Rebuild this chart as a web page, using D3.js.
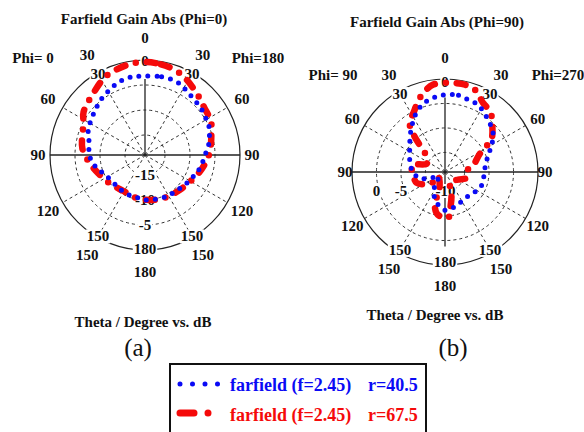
<!DOCTYPE html>
<html>
<head>
<meta charset="utf-8">
<script src="https://cdn.jsdelivr.net/npm/d3@7/dist/d3.min.js"></script>
<style>
  body { margin: 0; background: #fff; }
  svg text { font-family: "Liberation Serif", "Times New Roman", serif; fill: #111; }
</style>
</head>
<body>
<svg id="chart" width="584" height="432"></svg>
<script>
// theta in degrees, clockwise from the top (listed in drawing order); gain in dB
const phi0Theta40 = [0,12,20,27,34,42,50,59,66,74,82,90,102,110,121,135,154,180,193,207,221,240,252,261,272,282,291,300,312,321,331,339,347,353];
const phi0Gain40  = [-3.2,-3.0,-3.0,-3.2,-3.8,-4.2,-4.4,-4.8,-5.0,-5.6,-6.2,-7.0,-7.6,-8.2,-8.8,-9.4,-9.7,-10.0,-10.4,-10.4,-10.6,-10.3,-9.4,-8.4,-7.8,-7.6,-6.8,-6.3,-5.6,-4.9,-4.2,-3.6,-3.2,-3.2];

const phi0Theta67 = [0,10,20,29,41,51,63,74,87,100,110,134,155,171,190,211,230,248,262,276,297,305,319,334,350];
const phi0Gain67  = [-0.4,-0.6,-1.0,-1.8,-3.0,-3.8,-4.2,-5.2,-6.0,-7.0,-7.8,-9.1,-9.6,-9.9,-10.2,-10.6,-10.0,-9.0,-7.8,-6.4,-5.2,-4.0,-3.0,-1.4,-0.6];

const phi90Theta40 = [0,10,18,26,35,43,52,60,68,80,96,114,132,150,165,180,195,211,225,240,246,256,269,285,306,317,326,334,343,352];
const phi90Gain40  = [1.8,1.9,1.5,1.3,0.3,-0.5,-1.5,-3.0,-4.4,-5.6,-6.0,-6.1,-7.1,-7.1,-6.6,-6.2,-7.5,-9.5,-12.0,-12.4,-11.0,-8.7,-7.5,-6.6,-5.1,-3.6,-2.1,-0.6,0.7,1.4];

const phi90Theta67 = [0,7.5,13,20,29,37,43,55,58,62,76,88,105,120,152,161,165,172,176,185,192,199,196,240,230,249,265,282,294,310,316,320,324,332,340,346,352];
const phi90Gain67  = [4.2,4.3,4.3,3.9,2.1,1.4,0.1,-2.4,-4.0,-5.9,-8.0,-9.6,-9.4,-10.9,-11.8,-10.9,-8.9,-6.4,-4.6,-4.8,-5.5,-7.7,-9.6,-12.4,-10.5,-7.8,-7.5,-7.1,-9.9,-9.1,-6.9,-4.0,-1.7,-0.3,1.7,3.0,4.0];

const phi0Range = [-19, 0];
const phi90Range = [-14, 5];
const phi0RingTicks = [-15, -10, -5];
const phi90RingTicks = [0, -5, -10];

const angleTicks = d3.range(0, 360, 30);
const innerAngleTicks = [0, 30, 150, 180, 210, 330];

const seriesNames = ["farfield (f=2.45)", "farfield (f=2.45)"];
const seriesRadii = ["r=40.5", "r=67.5"];
const blue = "#0a0af5", red = "#f50a0a";

const svg = d3.select("#chart");
const rad = d => d * Math.PI / 180;

function polar(cfg) {
  const g = svg.append("g").attr("transform", `translate(${cfg.cx},${cfg.cy})`);
  const r = d3.scaleLinear().domain(cfg.range).range([0, cfg.R]);
  const R = cfg.R;

  // dashed rings and spokes
  g.selectAll(".ring").data(cfg.rings).join("circle")
    .attr("r", d => r(d)).attr("fill", "none")
    .attr("stroke", "#333").attr("stroke-width", 1).attr("stroke-dasharray", "3,3");
  g.selectAll(".spoke").data(angleTicks.filter(a => a % 90 !== 0)).join("line")
    .attr("x2", d => R * Math.sin(rad(d))).attr("y2", d => -R * Math.cos(rad(d)))
    .attr("stroke", "#333").attr("stroke-width", 1).attr("stroke-dasharray", "3,3");

  g.append("circle").attr("r", R).attr("fill", "none").attr("stroke", "#222").attr("stroke-width", 1.2);
  g.append("line").attr("x1", -R).attr("x2", R).attr("stroke", "#222").attr("stroke-width", 1.3);
  g.append("line").attr("y1", cfg.vDown ? R * 0.8 : 0).attr("y2", -R * 0.8).attr("stroke", "#222").attr("stroke-width", 1.3);

  const whiteBg = sel => sel.each(function () {
    const b = this.getBBox();
    d3.select(this.parentNode).insert("rect", () => this)
      .attr("x", b.x - 1).attr("y", b.y + 1).attr("width", b.width + 2).attr("height", b.height - 2)
      .attr("fill", "#fff");
  });
  const labR = d => cfg.lab90 + (cfg.lab0 - cfg.lab90) * Math.abs(Math.cos(rad(d)));

  // outer theta labels
  g.selectAll(".alab").data(angleTicks).join("text")
    .attr("x", d => labR(d) * Math.sin(rad(d)))
    .attr("y", d => -labR(d) * Math.cos(rad(d)))
    .attr("text-anchor", "middle").attr("dominant-baseline", "central")
    .attr("font-size", 15).attr("font-weight", "bold").text(d => d <= 180 ? d : 360 - d);

  // inner theta labels (sit on the outer circle)
  g.selectAll(".ilab").data(innerAngleTicks).join("g").append("text")
    .attr("x", d => cfg.innerR * Math.sin(rad(d))).attr("y", d => -cfg.innerR * Math.cos(rad(d)))
    .attr("text-anchor", "middle").attr("dominant-baseline", "central")
    .attr("font-size", 15).attr("font-weight", "bold").text(d => d <= 180 ? d : 360 - d)
    .call(whiteBg);

  // dB labels
  g.selectAll(".rlab").data(cfg.ringTicks).join("g").append("text")
    .attr("x", d => cfg.ringDir === "down" ? 0 : -r(d) + (cfg.ringShift[d] || 0))
    .attr("y", d => cfg.ringDir === "down" ? r(d) : 19)
    .attr("text-anchor", "middle").attr("dominant-baseline", "central")
    .attr("font-size", 15).attr("font-weight", "bold").text(d => d)
    .call(whiteBg);

  // curves
  const line = d3.lineRadial().angle(d => rad(d[0])).radius(d => r(d[1])).curve(d3.curveCatmullRomClosed.alpha(0.5));
  g.append("path").datum(d3.zip(cfg.t67, cfg.g67)).attr("d", line)
    .attr("fill", "none").attr("stroke", red).attr("stroke-width", 6.5)
    .attr("stroke-linecap", "round").attr("stroke-dasharray", "9,11,0,11");
  g.append("path").datum(d3.zip(cfg.t40, cfg.g40)).attr("d", line)
    .attr("fill", "none").attr("stroke", blue).attr("stroke-width", 5)
    .attr("stroke-linecap", "round").attr("stroke-dasharray", "0,9");

  // titles
  const txt = (x, y, s, size) => svg.append("text").attr("x", x).attr("y", y)
    .attr("text-anchor", "middle").attr("font-size", size || 15).attr("font-weight", "bold").text(s);
  txt(cfg.titleX, cfg.titleY, cfg.title);
  txt(cfg.cx - 112, cfg.cy - 92, cfg.phiL);
  txt(cfg.cx + 113, cfg.cy - 92, cfg.phiR);
  txt(cfg.axisX, cfg.axisY, "Theta / Degree vs. dB");
  txt(cfg.subX, 356, cfg.sub, 25).attr("font-weight", "normal");
}

polar({
  cx: 145, cy: 155, R: 95, range: phi0Range, rings: phi0RingTicks, ringTicks: phi0RingTicks,
  ringDir: "down", ringShift: {}, lab0: 117, lab90: 107, innerR: 94, vDown: false,
  t40: phi0Theta40, g40: phi0Gain40, t67: phi0Theta67, g67: phi0Gain67,
  title: "Farfield Gain Abs (Phi=0)", titleX: 144, titleY: 24, phiL: "Phi= 0", phiR: "Phi=180",
  axisX: 143, axisY: 327, subX: 138, sub: "(a)"
});
polar({
  cx: 445, cy: 172, R: 93, range: phi90Range, rings: [-10, -5, 0], ringTicks: phi90RingTicks,
  ringDir: "left", ringShift: { "-10": 20 }, lab0: 114, lab90: 100, innerR: 90, vDown: true,
  t40: phi90Theta40, g40: phi90Gain40, t67: phi90Theta67, g67: phi90Gain67,
  title: "Farfield Gain Abs (Phi=90)", titleX: 437, titleY: 27, phiL: "Phi= 90", phiR: "Phi=270",
  axisX: 435, axisY: 320, subX: 453, sub: "(b)"
});

// legend
const lg = svg.append("g");
lg.append("rect").attr("x", 170).attr("y", 364).attr("width", 256).attr("height", 72)
  .attr("fill", "#fff").attr("stroke", "#111").attr("stroke-width", 2);
lg.append("line").attr("x1", 180).attr("x2", 218).attr("y1", 384).attr("y2", 384)
  .attr("stroke", blue).attr("stroke-width", 5).attr("stroke-linecap", "round").attr("stroke-dasharray", "0,12.5");
lg.append("line").attr("x1", 180).attr("x2", 210).attr("y1", 413).attr("y2", 413)
  .attr("stroke", red).attr("stroke-width", 7).attr("stroke-linecap", "round").attr("stroke-dasharray", "14,14,0,30");
[blue, red].forEach((c, i) => {
  lg.append("text").attr("x", 230).attr("y", 391 + i * 30).attr("font-size", 18).attr("font-weight", "bold")
    .style("fill", c).text(seriesNames[i]);
  lg.append("text").attr("x", 368).attr("y", 391 + i * 30).attr("font-size", 18).attr("font-weight", "bold")
    .style("fill", c).text(seriesRadii[i]);
});
</script>
</body>
</html>
